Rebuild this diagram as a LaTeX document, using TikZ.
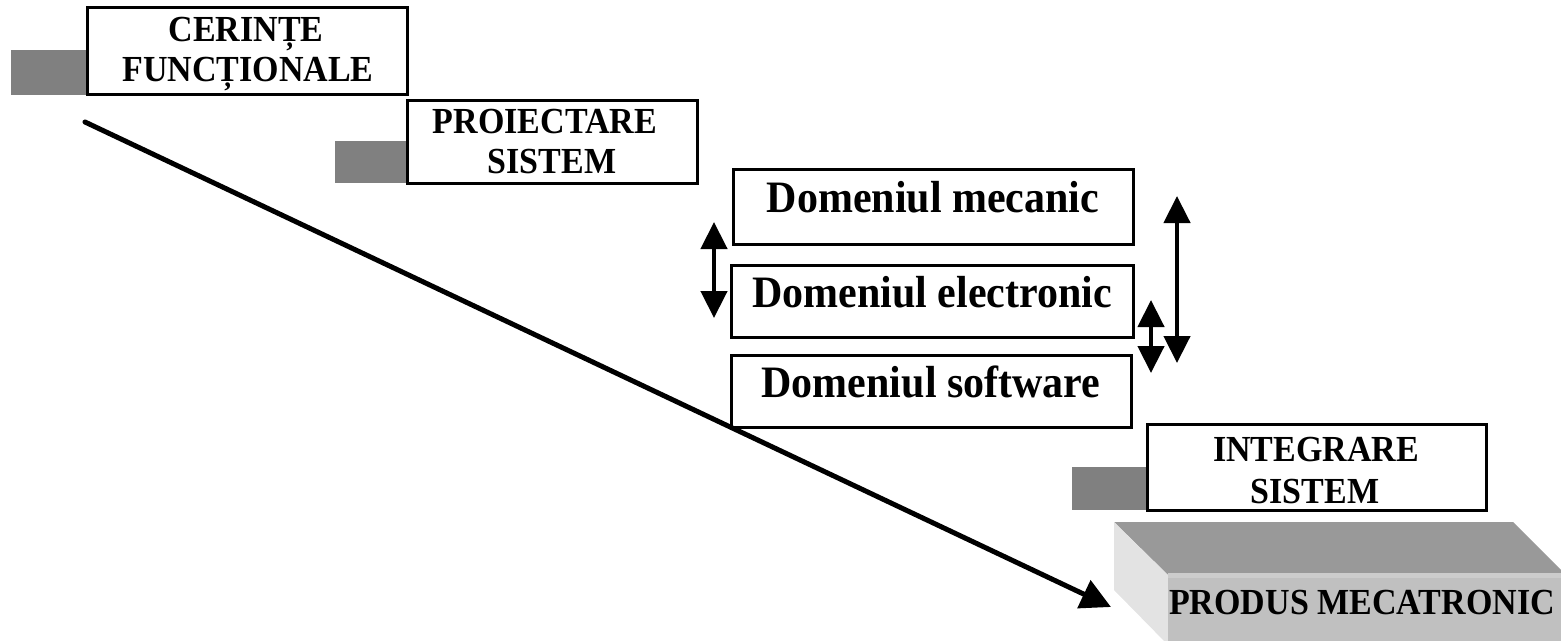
\documentclass[tikz,border=0pt]{standalone}
\usepackage{fontspec}
\setmainfont{Liberation Serif}
\usetikzlibrary{arrows.meta}
\definecolor{tabgray}{HTML}{808080}
\definecolor{topface}{HTML}{999999}
\definecolor{sideface}{HTML}{E3E3E3}
\definecolor{frontface}{HTML}{C0C0C0}
\definecolor{frontrim}{HTML}{CCCCCC}
\begin{document}
\begin{tikzpicture}[x=1pt, y=-1pt,
  box/.style={draw=black, line width=3pt, fill=white, inner sep=0pt, outer sep=0pt},
  caps/.style={font=\bfseries\fontsize{34}{40}\selectfont, inner sep=0pt, anchor=base, yscale=1.08, transform shape},
  dom/.style={font=\bfseries\fontsize{42}{48}\selectfont, inner sep=0pt, anchor=base, yscale=1.07, transform shape},
  dbl/.style={line width=4.5pt, {Triangle[width=26pt,length=27pt]}-{Triangle[width=26pt,length=27pt]}},
  flow/.style={line width=5pt, line cap=round, -{Triangle[width=30pt,length=30pt]}}]
\useasboundingbox (0,0) rectangle (1561,640);

% grey tabs behind the stage boxes
\fill[tabgray] (11,50) rectangle (87,95);
\fill[tabgray] (335,141) rectangle (407,183);
\fill[tabgray] (1072,467) rectangle (1147,510);

% stage boxes
\node[box, minimum width=320pt, minimum height=87pt] (cer) at (247,50.5) {};
\node[caps] (cerA) at (246,41) {CERINȚE};
\node[caps] (cerB) at (248,81) {FUNCȚIONALE};

\node[box, minimum width=290pt, minimum height=83pt] (proi) at (552,141.5) {};
\node[caps] (proiA) at (545,133) {PROIECTARE};
\node[caps] (proiB) at (552,173) {SISTEM};

\node[box, minimum width=400pt, minimum height=75pt] (mec) at (933,206.5) {};
\node[dom] (mecT) at (933,212) {Domeniul mecanic};

\node[box, minimum width=402pt, minimum height=72pt] (ele) at (932,301) {};
\node[dom] (eleT) at (932,307) {Domeniul electronic};

\node[box, minimum width=400pt, minimum height=72pt] (soft) at (931,391) {};
\node[dom] (softT) at (931,397) {Domeniul software};

\node[box, minimum width=339pt, minimum height=86pt] (integ) at (1316.5,467) {};
\node[caps] (integA) at (1316,461) {INTEGRARE};
\node[caps] (integB) at (1315,503) {SISTEM};

% the final product block
\begin{scope}
  \clip (0,0) rectangle (1561,640);
  \fill[topface] (1114,522) -- (1513,522) -- (1566,575) -- (1168,575) -- cycle;
  \fill[sideface] (1114,522) -- (1168,575) -- (1168,645) -- (1114,590) -- cycle;
  \fill[frontface] (1168,575) rectangle (1570,645);
  \fill[frontrim] (1168,573) rectangle (1570,578);
\end{scope}
\node[caps] (prod) at (1362,614) {PRODUS MECATRONIC};

% interaction arrows between the domains
\coordinate (meL) at (714,222);
\coordinate (elL) at (714,318);
\draw[dbl] (meL) -- (elL);
\coordinate (meR) at (1177,196);
\coordinate (soR) at (1177,363);
\draw[dbl] (meR) -- (soR);
\coordinate (elR) at (1151,300);
\coordinate (soR2) at (1151,373);
\draw[dbl] (elR) -- (soR2);

% overall flow from requirements to the product
\coordinate (flowStart) at (85,122);
\coordinate (flowEnd) at (1111,607);
\draw[flow] (flowStart) -- (flowEnd);
\end{tikzpicture}
\end{document}
